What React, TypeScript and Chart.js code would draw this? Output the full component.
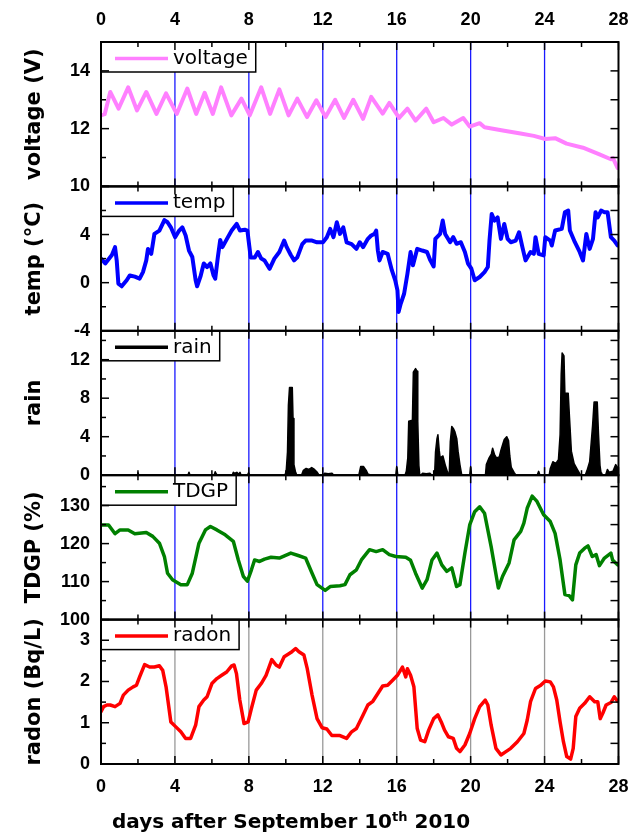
import React, { useEffect, useRef } from 'react';
import { Chart, registerables } from 'chart.js';

Chart.register(...registerables);

// ---------- data (days after Sept 10th 2010) ----------
const voltDays = [0, 0.2, 0.5, 0.95, 1.47, 1.95, 2.45, 3.0, 3.52, 4.1, 4.67, 5.15, 5.61, 6.05, 6.5, 7.05, 7.6, 8.05, 8.67, 9.15, 9.65, 10.15, 10.62, 11.15, 11.65, 12.15, 12.67, 13.15, 13.65, 14.18, 14.62, 15.24, 15.6, 16.13, 16.58, 17.02, 17.6, 18.0, 18.53, 18.98, 19.6, 19.95, 20.49, 20.75, 21.82, 22.7, 23.42, 24.04, 24.57, 25.19, 26.08, 26.97, 27.59, 27.7, 27.95];
const voltValues = [12.46, 12.5, 13.27, 12.69, 13.43, 12.63, 13.27, 12.51, 13.22, 12.51, 13.39, 12.51, 13.24, 12.51, 13.43, 12.46, 13.04, 12.46, 13.43, 12.51, 13.36, 12.46, 13.04, 12.4, 12.98, 12.4, 13.0, 12.37, 13.0, 12.34, 13.1, 12.52, 12.89, 12.37, 12.69, 12.28, 12.69, 12.22, 12.37, 12.14, 12.37, 12.07, 12.19, 12.05, 11.93, 11.83, 11.75, 11.64, 11.67, 11.48, 11.34, 11.11, 10.94, 10.98, 10.64];

const tempDays = [0, 0.23, 0.59, 0.76, 0.85, 0.94, 1.12, 1.39, 1.56, 1.83, 2.09, 2.27, 2.45, 2.54, 2.72, 2.89, 3.16, 3.43, 3.6, 3.78, 4.01, 4.23, 4.4, 4.58, 4.76, 4.94, 5.12, 5.2, 5.38, 5.56, 5.74, 5.92, 6.09, 6.18, 6.32, 6.45, 6.57, 6.8, 7.07, 7.34, 7.52, 7.78, 7.92, 8.1, 8.32, 8.49, 8.67, 8.85, 9.12, 9.38, 9.65, 9.91, 10.05, 10.27, 10.45, 10.62, 10.89, 11.07, 11.42, 11.69, 12.01, 12.22, 12.4, 12.58, 12.76, 12.93, 13.11, 13.29, 13.56, 13.82, 14.0, 14.18, 14.44, 14.62, 14.8, 14.89, 14.98, 15.07, 15.24, 15.51, 15.6, 15.74, 15.92, 16.04, 16.1, 16.22, 16.4, 16.58, 16.75, 16.88, 17.11, 17.38, 17.64, 17.82, 18.0, 18.09, 18.35, 18.49, 18.62, 18.89, 19.06, 19.24, 19.47, 19.69, 19.86, 20.04, 20.22, 20.49, 20.75, 20.93, 21.02, 21.14, 21.29, 21.46, 21.64, 21.82, 22.0, 22.17, 22.44, 22.62, 22.8, 22.97, 23.24, 23.42, 23.51, 23.68, 23.95, 24.04, 24.31, 24.39, 24.57, 24.93, 25.1, 25.28, 25.37, 25.64, 25.9, 26.08, 26.26, 26.44, 26.62, 26.76, 26.88, 27.06, 27.24, 27.41, 27.59, 27.77, 27.95];
const tempValues = [2.0, 1.6, 2.3, 2.95, 1.85, -0.08, -0.3, 0.2, 0.6, 0.5, 0.33, 0.88, 1.85, 2.8, 2.4, 4.05, 4.33, 5.2, 5.02, 4.6, 3.78, 4.33, 4.6, 3.92, 2.67, 2.13, 0.2, -0.3, 0.5, 1.6, 1.3, 1.6, 0.6, 0.33, 2.1, 3.55, 2.95, 3.6, 4.33, 4.88, 4.33, 4.4, 4.33, 2.1, 2.1, 2.55, 2.0, 1.85, 1.15, 2.0, 2.55, 3.5, 2.95, 2.3, 1.85, 2.1, 3.2, 3.5, 3.5, 3.35, 3.35, 3.78, 4.47, 3.78, 5.02, 4.05, 4.6, 3.35, 3.2, 2.81, 3.36, 2.95, 3.64, 3.92, 4.05, 4.33, 2.67, 1.85, 2.55, 2.4, 1.85, 1.02, 0.2, -0.64, -2.43, -1.74, -0.92, 0.74, 2.55, 1.44, 2.81, 2.67, 2.55, 1.85, 1.35, 3.64, 4.05, 5.16, 4.05, 3.36, 3.78, 3.23, 3.36, 2.55, 1.58, 1.16, 0.2, 0.47, 0.88, 1.3, 3.5, 5.71, 5.16, 5.43, 3.64, 4.88, 3.64, 3.36, 3.5, 4.19, 2.95, 1.85, 2.55, 2.4, 3.78, 2.4, 2.26, 3.78, 3.5, 3.09, 4.33, 4.47, 5.85, 5.99, 4.33, 3.36, 2.55, 1.85, 4.05, 2.81, 3.64, 5.85, 5.43, 5.99, 5.85, 5.85, 3.78, 3.5, 3.09];

const rainDays = [0, 1.95, 2.0, 2.05, 4.7, 4.76, 4.82, 6.12, 6.18, 6.25, 6.3, 7.1, 7.16, 7.25, 7.35, 7.45, 7.52, 7.58, 7.92, 7.98, 8.05, 9.95, 10.02, 10.09, 10.14, 10.2, 10.35, 10.39, 10.44, 10.53, 10.6, 10.85, 10.95, 11.1, 11.25, 11.4, 11.55, 11.7, 11.8, 12.0, 12.1, 12.3, 12.5, 12.6, 13.95, 14.05, 14.2, 14.35, 14.45, 14.5, 15.95, 16.0, 16.06, 16.45, 16.52, 16.6, 16.65, 16.85, 16.9, 17.02, 17.1, 17.14, 17.2, 17.25, 17.3, 17.4, 17.6, 17.8, 17.9, 18.05, 18.1, 18.18, 18.23, 18.3, 18.35, 18.5, 18.62, 18.75, 18.82, 18.85, 18.9, 18.98, 19.08, 19.15, 19.25, 19.32, 19.42, 19.52, 19.95, 20.0, 20.05, 20.8, 20.85, 21.0, 21.12, 21.19, 21.3, 21.4, 21.55, 21.64, 21.75, 21.82, 21.95, 22.05, 22.12, 22.2, 22.35, 22.45, 23.6, 23.68, 23.75, 24.25, 24.31, 24.45, 24.6, 24.75, 24.84, 24.9, 24.95, 25.05, 25.1, 25.28, 25.35, 25.45, 25.6, 25.8, 25.95, 26.2, 26.3, 26.44, 26.6, 26.68, 26.85, 26.92, 27.0, 27.06, 27.1, 27.3, 27.4, 27.5, 27.7, 27.85, 27.95, 28];
const rainValues = [0, 0, 0.25, 0, 0, 0.3, 0, 0, 0.35, 0.1, 0, 0, 0.3, 0.2, 0.3, 0.1, 0.3, 0, 0, 0.25, 0, 0, 0.4, 2.4, 7.3, 9.1, 9.1, 5.9, 1.1, 0.3, 0, 0, 0.5, 0.7, 0.6, 0.8, 0.6, 0.3, 0, 0, 0.2, 0.15, 0.2, 0, 0, 0.9, 0.9, 0.5, 0.1, 0, 0, 0.9, 0, 0, 0.4, 1.8, 5.6, 5.7, 10.7, 11.07, 10.8, 5.6, 1.0, 0, 0, 0.2, 0.15, 0.2, 0, 0, 2.4, 3.8, 4.2, 2.6, 1.8, 2.0, 1.1, 0.3, 0, 0.5, 3.5, 5.07, 4.8, 4.5, 3.8, 2.5, 1.1, 0, 0, 0.9, 0, 0, 1.1, 1.8, 2.2, 2.8, 2.1, 1.8, 1.9, 2.6, 3.3, 3.7, 4.0, 3.6, 2.0, 0.8, 0.3, 0, 0, 0.4, 0, 0, 0.7, 1.4, 1.2, 1.6, 4.2, 10.5, 12.7, 12.4, 8.5, 8.5, 6.0, 2.5, 1.2, 0.5, 0, 0, 0.5, 1.4, 5.2, 7.6, 7.6, 4.2, 1.0, 0.2, 0, 0, 0.6, 0.3, 0.4, 1.1, 0.8, 0.5];

const tdgpDays = [0, 0.41, 0.76, 1.03, 1.47, 1.83, 2.45, 2.8, 3.16, 3.43, 3.6, 3.87, 4.32, 4.67, 4.94, 5.3, 5.65, 5.92, 6.27, 6.72, 7.16, 7.43, 7.7, 7.92, 8.14, 8.31, 8.58, 8.85, 9.2, 9.65, 10.27, 10.71, 11.07, 11.42, 11.69, 12.13, 12.4, 12.93, 13.2, 13.47, 13.82, 14.09, 14.53, 14.89, 15.24, 15.6, 15.95, 16.49, 16.75, 17.02, 17.38, 17.64, 17.91, 18.18, 18.44, 18.71, 18.98, 19.24, 19.42, 19.69, 19.95, 20.22, 20.49, 20.75, 21.11, 21.5, 21.73, 22.08, 22.35, 22.71, 22.88, 23.06, 23.33, 23.59, 23.95, 24.31, 24.57, 24.84, 25.1, 25.33, 25.51, 25.69, 25.9, 26.17, 26.35, 26.58, 26.79, 26.97, 27.24, 27.59, 27.68, 27.95];
const tdgpValues = [124.9, 124.9, 122.6, 123.6, 123.6, 122.6, 122.9, 121.9, 120.1, 116.6, 112.2, 110.5, 109.2, 109.2, 112.2, 120.1, 123.6, 124.5, 123.6, 122.3, 120.6, 115.7, 111.4, 110.1, 113.1, 115.7, 115.3, 115.9, 116.4, 116.2, 117.5, 116.8, 116.2, 112.2, 109.2, 107.7, 108.7, 108.9, 109.2, 111.8, 113.1, 115.7, 118.4, 117.9, 118.4, 117.1, 116.6, 116.4, 115.6, 112.2, 108.3, 110.5, 115.7, 117.5, 114.4, 112.7, 113.6, 108.7, 109.2, 117.5, 124.9, 128.4, 129.7, 128.0, 119.2, 108.3, 111.4, 114.9, 121.0, 123.2, 125.4, 129.3, 132.5, 131.1, 127.6, 125.8, 122.7, 115.7, 106.6, 106.3, 105.2, 114.4, 117.5, 118.8, 119.4, 116.6, 117.1, 114.2, 116.2, 117.5, 115.7, 114.4];

const radonDays = [0, 0.14, 0.32, 0.5, 0.76, 1.03, 1.21, 1.47, 1.74, 1.92, 2.09, 2.36, 2.63, 2.89, 3.16, 3.34, 3.52, 3.78, 4.05, 4.32, 4.58, 4.85, 5.12, 5.3, 5.56, 5.74, 6.0, 6.27, 6.53, 6.8, 7.07, 7.2, 7.33, 7.51, 7.74, 7.96, 8.14, 8.4, 8.67, 8.93, 9.24, 9.47, 9.65, 9.91, 10.27, 10.53, 10.71, 10.98, 11.16, 11.42, 11.69, 11.96, 12.22, 12.49, 12.93, 13.29, 13.56, 13.82, 14.18, 14.44, 14.71, 14.98, 15.24, 15.51, 15.78, 16.04, 16.31, 16.49, 16.58, 16.75, 16.93, 17.11, 17.29, 17.52, 17.73, 18.0, 18.23, 18.41, 18.59, 18.8, 19.06, 19.24, 19.42, 19.69, 19.95, 20.22, 20.49, 20.79, 20.93, 21.11, 21.37, 21.64, 21.91, 22.17, 22.53, 22.88, 23.06, 23.24, 23.51, 23.77, 24.04, 24.31, 24.48, 24.66, 24.84, 25.02, 25.2, 25.41, 25.55, 25.69, 25.9, 26.17, 26.44, 26.71, 26.88, 27.01, 27.15, 27.33, 27.59, 27.77, 27.95];
const radonValues = [1.27, 1.39, 1.43, 1.43, 1.39, 1.47, 1.67, 1.79, 1.87, 1.91, 2.11, 2.41, 2.35, 2.35, 2.38, 2.27, 1.87, 1.02, 0.9, 0.78, 0.62, 0.62, 0.94, 1.39, 1.55, 1.63, 1.95, 2.07, 2.15, 2.23, 2.38, 2.4, 2.19, 1.55, 0.98, 1.02, 1.35, 1.79, 1.95, 2.15, 2.53, 2.4, 2.35, 2.6, 2.7, 2.8, 2.72, 2.64, 2.31, 1.67, 1.1, 0.88, 0.85, 0.69, 0.69, 0.62, 0.78, 0.86, 1.19, 1.43, 1.52, 1.71, 1.89, 1.91, 2.03, 2.15, 2.35, 2.11, 2.31, 2.15, 1.87, 0.86, 0.58, 0.54, 0.82, 1.1, 1.19, 1.02, 0.82, 0.66, 0.62, 0.38, 0.3, 0.46, 0.74, 1.1, 1.39, 1.55, 1.43, 0.94, 0.38, 0.22, 0.3, 0.38, 0.54, 0.74, 1.06, 1.51, 1.83, 1.9, 2.01, 1.99, 1.87, 1.55, 1.02, 0.54, 0.18, 0.12, 0.38, 1.15, 1.35, 1.47, 1.63, 1.51, 1.51, 1.1, 1.23, 1.43, 1.49, 1.63, 1.52];

// ---------- axes ----------
const xLabelTicks = [0, 4, 8, 12, 16, 20, 24, 28];
const xMinorTicks = [2, 6, 10, 14, 18, 22, 26];
const refDays = [4, 8, 12, 16, 20, 24];

const voltLabels = [10, 12, 14];
const voltMinor = [11, 13];
const tempLabels = [-4, 0, 4];
const tempMajor = [-4, 0, 4, 8];
const tempMinor = [-2, 2, 6];
const rainLabels = [0, 4, 8, 12];
const rainMinor = [2, 6, 10, 14];
const tdgpLabels = [100, 110, 120, 130];
const tdgpMinor = [105, 115, 125, 135];
const radonLabels = [0, 1, 2, 3];
const radonMinor = [0.5, 1.5, 2.5];

const panels = [
  { id: 'yV', name: 'voltage', title: 'voltage (V)', min: 10, max: 15, labels: voltLabels, major: voltLabels, minor: voltMinor, color: '#ff80ff', refColor: '#1a1aff', days: voltDays, values: voltValues, width: 4 },
  { id: 'yT', name: 'temp', title: 'temp (°C)', min: -4, max: 8, labels: tempLabels, major: tempMajor, minor: tempMinor, color: '#0000ff', refColor: '#1a1aff', days: tempDays, values: tempValues, width: 4 },
  { id: 'yR', name: 'rain', title: 'rain', min: 0, max: 15, labels: rainLabels, major: rainLabels, minor: rainMinor, color: '#000000', refColor: '#1a1aff', days: rainDays, values: rainValues, width: 1.5 },
  { id: 'yG', name: 'TDGP', title: 'TDGP (%)', min: 100, max: 138, labels: tdgpLabels, major: tdgpLabels, minor: tdgpMinor, color: '#008000', refColor: '#1a1aff', days: tdgpDays, values: tdgpValues, width: 3.5 },
  { id: 'yN', name: 'radon', title: 'radon (Bq/L)', min: 0, max: 3.5, labels: radonLabels, major: radonLabels, minor: radonMinor, color: '#ff0000', refColor: '#999999', days: radonDays, values: radonValues, width: 3.5 },
];

const tickFont = { family: '"Liberation Sans", Arial, sans-serif', weight: 'bold' as const, size: 18 };
const titleFont = { family: '"DejaVu Sans", sans-serif', weight: 'bold' as const, size: 21 };

const decorPlugin = {
  id: 'panelDecor',
  beforeDatasetsDraw(chart: any) {
    const ctx = chart.ctx;
    const xs = chart.scales.x;
    panels.forEach((p) => {
      const ys = chart.scales[p.id];
      ctx.save();
      ctx.strokeStyle = p.refColor;
      ctx.lineWidth = 1.3;
      refDays.forEach((d) => {
        const px = xs.getPixelForValue(d);
        ctx.beginPath();
        ctx.moveTo(px, ys.top);
        ctx.lineTo(px, ys.bottom);
        ctx.stroke();
      });
      ctx.restore();
    });
  },
  afterDatasetsDraw(chart: any) {
    const ctx = chart.ctx;
    const xs = chart.scales.x;
    panels.forEach((p) => {
      const ys = chart.scales[p.id];
      ctx.save();
      ctx.font = '20px "DejaVu Sans", sans-serif';
      const tw = ctx.measureText(p.name).width;
      const x0 = xs.left;
      const y0 = ys.top;
      const w = 72 + tw + 8;
      const h = 30;
      ctx.fillStyle = '#ffffff';
      ctx.fillRect(x0, y0, w, h);
      ctx.strokeStyle = '#000';
      ctx.lineWidth = 1.5;
      ctx.strokeRect(x0, y0, w, h);
      const ly = y0 + 16.5;
      ctx.strokeStyle = p.color;
      ctx.lineWidth = 3.5;
      ctx.beginPath();
      ctx.moveTo(x0 + 14, ly);
      ctx.lineTo(x0 + 67, ly);
      ctx.stroke();
      ctx.fillStyle = '#000';
      ctx.textBaseline = 'middle';
      ctx.textAlign = 'left';
      ctx.fillText(p.name, x0 + 72, ly);
      ctx.restore();
    });
  },
  afterDraw(chart: any) {
    const ctx = chart.ctx;
    const xs = chart.scales.x;
    panels.forEach((p) => {
      const ys = chart.scales[p.id];
      const L = xs.left, R = xs.right, T = ys.top, B = ys.bottom;
      ctx.save();
      ctx.strokeStyle = '#000';
      ctx.lineWidth = 1.5;
      const drawTick = (x1: number, y1: number, x2: number, y2: number) => {
        ctx.beginPath();
        ctx.moveTo(x1, y1);
        ctx.lineTo(x2, y2);
        ctx.stroke();
      };
      xLabelTicks.forEach((v) => {
        const px = xs.getPixelForValue(v);
        drawTick(px, T, px, T + 8);
        drawTick(px, B, px, B - 8);
      });
      xMinorTicks.forEach((v) => {
        const px = xs.getPixelForValue(v);
        drawTick(px, T, px, T + 5);
        drawTick(px, B, px, B - 5);
      });
      p.major.forEach((v) => {
        const py = ys.getPixelForValue(v);
        drawTick(L, py, L + 8, py);
        drawTick(R, py, R - 8, py);
      });
      p.minor.forEach((v) => {
        const py = ys.getPixelForValue(v);
        drawTick(L, py, L + 5, py);
        drawTick(R, py, R - 8, py);
      });
      ctx.lineWidth = 2;
      ctx.strokeRect(L, T, R - L, B - T);
      ctx.restore();
    });
  },
};

function makeYScale(p: any, weight: number) {
  return {
    type: 'linear',
    position: 'left',
    stack: 'panels',
    stackWeight: 1,
    weight,
    min: p.min,
    max: p.max,
    afterBuildTicks: (s: any) => {
      s.ticks = p.labels.map((v: number) => ({ value: v }));
    },
    afterFit: (s: any) => {
      s.width = 101;
    },
    grid: { display: false, drawTicks: false },
    border: { display: false },
    ticks: { color: '#000', font: tickFont, padding: 11, autoSkip: false },
    title: { display: true, text: p.title, color: '#000', font: titleFont, padding: { top: 22, bottom: 0 } },
  };
}

export default function App() {
  const ref = useRef<HTMLCanvasElement>(null);
  useEffect(() => {
    const datasets = panels.map((p) => ({
      label: p.name,
      yAxisID: p.id,
      xAxisID: 'x',
      data: p.days.map((d, i) => ({ x: d, y: p.values[i] })),
      borderColor: p.color,
      backgroundColor: p.color,
      borderWidth: p.width,
      pointRadius: 0,
      tension: 0,
      fill: p.id === 'yR' ? 'origin' : false,
      borderJoinStyle: 'round' as const,
      borderCapStyle: 'round' as const,
    }));
    const scales: any = {
      x: {
        type: 'linear',
        position: 'bottom',
        min: 0,
        max: 28,
        afterBuildTicks: (s: any) => {
          s.ticks = xLabelTicks.map((v) => ({ value: v }));
        },
        afterFit: (s: any) => {
          s.height = 74;
        },
        grid: { display: false, drawTicks: false },
        border: { display: false },
        ticks: { color: '#000', font: tickFont, padding: 12.5, autoSkip: false, maxRotation: 0 },
      },
      x2: {
        type: 'linear',
        axis: 'x',
        position: 'top',
        min: 0,
        max: 28,
        afterBuildTicks: (s: any) => {
          s.ticks = xLabelTicks.map((v) => ({ value: v }));
        },
        afterFit: (s: any) => {
          s.height = 42;
        },
        grid: { display: false, drawTicks: false },
        border: { display: false },
        ticks: { color: '#000', font: tickFont, padding: 11.2, autoSkip: false, maxRotation: 0 },
      },
    };
    panels.forEach((p, i) => {
      scales[p.id] = makeYScale(p, panels.length - i);
    });
    const chart = new Chart(ref.current as HTMLCanvasElement, {
      type: 'line',
      data: { datasets: datasets as any },
      options: {
        responsive: false,
        animation: false,
        events: [],
        layout: { padding: { left: 0, right: 15, top: 0, bottom: 0 } },
        plugins: { legend: { display: false }, tooltip: { enabled: false } },
        scales,
      },
      plugins: [decorPlugin],
    } as any);
    return () => chart.destroy();
  }, []);

  return (
    <div style={{ position: 'absolute', left: 0, top: 0, width: 641, height: 838, background: '#ffffff' }}>
      <canvas ref={ref} width={641} height={838} style={{ display: 'block', width: 641, height: 838 }} />
      <div
        style={{
          position: 'absolute',
          left: 112,
          top: 809,
          font: 'bold 20px "DejaVu Sans", sans-serif',
          lineHeight: '24px',
          whiteSpace: 'nowrap',
          color: '#000',
        }}
      >
        days after September 10
        <span style={{ fontSize: 13, position: 'relative', top: -7.5 }}>th</span> 2010
      </div>
    </div>
  );
}
